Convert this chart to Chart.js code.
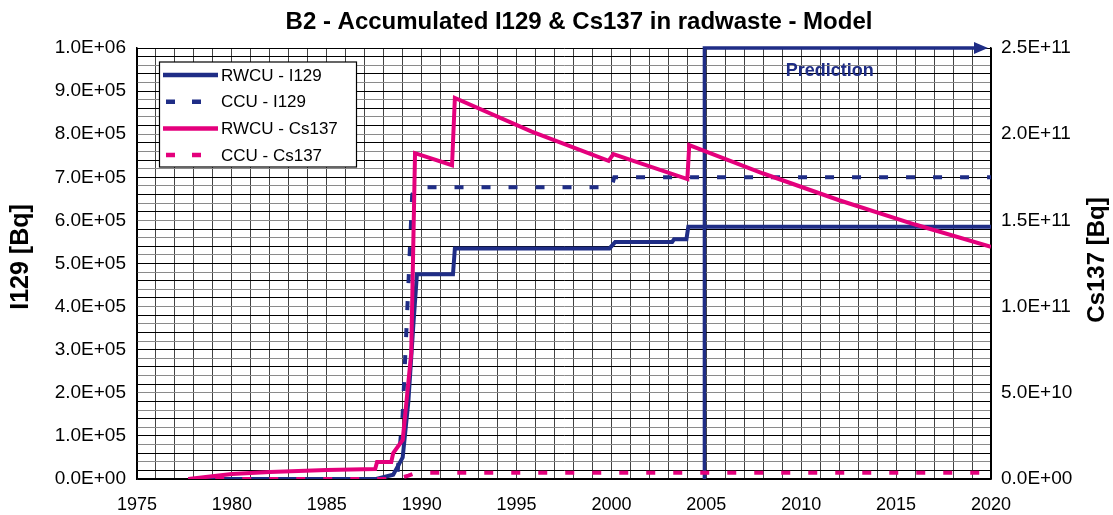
<!DOCTYPE html>
<html><head><meta charset="utf-8">
<script src="https://cdn.jsdelivr.net/npm/chart.js@4.4.1/dist/chart.umd.min.js"></script>
<style>html,body{margin:0;padding:0;background:#fff;} canvas{display:block}</style>
</head><body>
<canvas id="c" width="1113" height="515"></canvas>
<script>
const chartTitle = 'B2 - Accumulated I129 & Cs137 in radwaste - Model';
const leftAxisTitle = 'I129 [Bq]';
const rightAxisTitle = 'Cs137 [Bq]';
const predictionLabel = 'Prediction';
const seriesNames = ['RWCU - I129', 'CCU - I129', 'RWCU - Cs137', 'CCU - Cs137'];

// RWCU - I129 (left axis, Bq)
const rwcuI129Years  = [1977.7, 1987.6, 1988.5, 1989.0, 1989.3, 1989.55, 1989.75, 1991.65, 1991.75, 1999.9, 2000.2, 2003.2, 2003.3, 2003.95, 2004.05, 2020];
const rwcuI129Values = [0, 0, 1.0e4, 5.0e4, 1.8e5, 3.5e5, 4.75e5, 4.75e5, 5.35e5, 5.35e5, 5.5e5, 5.5e5, 5.56e5, 5.56e5, 5.85e5, 5.85e5];
// CCU - I129 (left axis, Bq)
const ccuI129Years  = [1977.7, 1988.7, 1989.0, 1989.3, 1989.5, 1989.75, 2000.0, 2000.15, 2020];
const ccuI129Values = [0, 0, 1.5e5, 4.5e5, 6.6e5, 6.77e5, 6.77e5, 7.0e5, 7.0e5];
// RWCU - Cs137 (right axis, Bq)
const rwcuCs137Years  = [1977.7, 1980, 1982, 1985, 1987.55, 1987.65, 1988.4, 1988.5, 1989.0, 1989.45, 1989.65, 1991.6, 1991.75, 1995.8, 1999.85, 2000.1, 2004.0, 2004.1, 2008, 2012, 2016, 2020];
const rwcuCs137Values = [0, 2.9e9, 4.1e9, 5.2e9, 5.8e9, 9.9e9, 9.9e9, 1.5e10, 2.26e10, 7.3e10, 1.89e11, 1.82e11, 2.21e11, 2.015e11, 1.845e11, 1.885e11, 1.74e11, 1.937e11, 1.772e11, 1.617e11, 1.476e11, 1.347e11];
// CCU - Cs137 (right axis, Bq)
const ccuCs137Years  = [1977.7, 1988.7, 1989.3, 1989.7, 2020];
const ccuCs137Values = [0, 0, 2.0e9, 3.6e9, 3.6e9];
// Prediction marker
const predictionYears  = [2004.9, 2004.9, 2019.2];
const predictionValues = [0, 1.0e6, 1.0e6];

const xMin = 1975, xMax = 2020, xStep = 1, xLabelEvery = 5;
const leftMin = 0, leftMax = 1.0e6, leftStep = 2.0e4, leftLabelEvery = 1.0e5;
const rightMin = 0, rightMax = 2.5e11, rightStep = 5.0e10;

const BLUE = '#1F2D86';
const PINK = '#E4007C';

function pts(xs, ys) { return xs.map((x, i) => ({x: x, y: ys[i]})); }
function sci(v) {
  if (Math.abs(v) < 1e-12) return '0.0E+00';
  let e = Math.floor(Math.log10(Math.abs(v)) + 1e-9);
  let m = v / Math.pow(10, e);
  if (Math.round(m * 10) / 10 >= 10) { m /= 10; e += 1; }
  return m.toFixed(1) + 'E' + (e >= 0 ? '+' : '-') + String(Math.abs(e)).padStart(2, '0');
}
const FONT = "'Liberation Sans', Arial, sans-serif";
Chart.defaults.font.family = FONT;
Chart.defaults.color = '#000';

const overlay = {
  id: 'overlay',
  afterDatasetsDraw(chart) {
    const ctx = chart.ctx, xs = chart.scales.x, yl = chart.scales.y, ca = chart.chartArea;
    // arrowhead
    const tipX = xs.getPixelForValue(xMax) - 3, tipY = yl.getPixelForValue(leftMax);
    ctx.save();
    ctx.fillStyle = BLUE;
    ctx.beginPath();
    ctx.moveTo(tipX, tipY);
    ctx.lineTo(tipX - 14, tipY - 6);
    ctx.lineTo(tipX - 14, tipY + 6);
    ctx.closePath();
    ctx.fill();
    // prediction label
    ctx.font = 'bold 18px ' + FONT;
    ctx.textAlign = 'center';
    ctx.textBaseline = 'middle';
    ctx.fillText(predictionLabel, xs.getPixelForValue(2011.5), yl.getPixelForValue(9.47e5));
    // chart title
    ctx.fillStyle = '#000';
    ctx.font = 'bold 24px ' + FONT;
    ctx.fillText(chartTitle, 579, 22);
    // left axis title
    ctx.save();
    ctx.translate(21, 257);
    ctx.rotate(-Math.PI / 2);
    ctx.font = 'bold 25px ' + FONT;
    ctx.fillText(leftAxisTitle, 0, 0);
    ctx.restore();
    // right axis title (reads bottom to top)
    ctx.save();
    ctx.translate(1097, 260);
    ctx.rotate(-Math.PI / 2);
    ctx.font = 'bold 24px ' + FONT;
    ctx.fillText(rightAxisTitle, 0, 0);
    ctx.restore();
    // legend
    const bx = 159.5, by = 62, bw = 197, bh = 105;
    ctx.fillStyle = '#fff';
    ctx.fillRect(bx, by, bw, bh);
    ctx.strokeStyle = '#000';
    ctx.lineWidth = 1.2;
    ctx.strokeRect(bx, by, bw, bh);
    const rows = [
      {c: BLUE, dash: false}, {c: BLUE, dash: true}, {c: PINK, dash: false}, {c: PINK, dash: true}
    ];
    ctx.font = '17px ' + FONT;
    ctx.textAlign = 'left';
    rows.forEach((r, i) => {
      const yy = 75 + i * 26.7;
      ctx.strokeStyle = r.c;
      ctx.lineWidth = 4.5;
      ctx.lineCap = 'butt';
      if (r.dash) { ctx.setLineDash([9, 17]); ctx.beginPath(); ctx.moveTo(166, yy); ctx.lineTo(202, yy); ctx.stroke(); ctx.setLineDash([]); }
      else { ctx.beginPath(); ctx.moveTo(163, yy); ctx.lineTo(218, yy); ctx.stroke(); }
      ctx.fillStyle = '#000';
      ctx.fillText(seriesNames[i], 221, yy + 1);
    });
    ctx.restore();
  }
};

new Chart(document.getElementById('c'), {
  type: 'line',
  data: {
    datasets: [
      {label: seriesNames[2], data: pts(rwcuCs137Years, rwcuCs137Values), yAxisID: 'y2', borderColor: PINK, borderWidth: 4, order: 0},
      {label: seriesNames[3], data: pts(ccuCs137Years, ccuCs137Values), yAxisID: 'y2', borderColor: PINK, borderWidth: 4, borderDash: [9, 18], order: 1},
      {label: seriesNames[0], data: pts(rwcuI129Years, rwcuI129Values), yAxisID: 'y', borderColor: BLUE, borderWidth: 4, order: 2},
      {label: seriesNames[1], data: pts(ccuI129Years, ccuI129Values), yAxisID: 'y', borderColor: BLUE, borderWidth: 4, borderDash: [9, 18], order: 3},
      {label: 'prediction', data: pts(predictionYears, predictionValues), yAxisID: 'y', borderColor: BLUE, borderWidth: 3.5, clip: false, order: 4}
    ]
  },
  options: {
    responsive: false,
    animation: false,
    devicePixelRatio: 1,
    layout: {padding: {left: 0, right: 0, top: 48, bottom: 0}},
    elements: {point: {radius: 0, hoverRadius: 0}, line: {tension: 0, borderCapStyle: 'butt', borderJoinStyle: 'miter', fill: false}},
    plugins: {
      legend: {display: false},
      tooltip: {enabled: false},
      title: {display: false}
    },
    scales: {
      x: {
        type: 'linear', min: xMin, max: xMax,
        afterFit(s) { s.height = 36; },
        ticks: {stepSize: xStep, autoSkip: false, maxRotation: 0, maxTicksLimit: 1000, padding: 15, font: {size: 18},
          callback: v => (Math.abs(v % xLabelEvery) < 1e-6 ? String(Math.round(v)) : '')},
        grid: {drawTicks: false, lineWidth: 1,
          color: c => (c.tick && (c.tick.value === xMin || c.tick.value === xMax) ? '#000' : '#444')},
        border: {display: true, color: '#000', width: 1.5}
      },
      y: {
        type: 'linear', position: 'left', min: leftMin, max: leftMax,
        afterFit(s) { s.width = 137; },
        title: {display: false},
        ticks: {stepSize: leftStep, autoSkip: false, maxTicksLimit: 1000, padding: 11, font: {size: 19},
          callback: v => {
            const r = Math.round(v / leftLabelEvery) * leftLabelEvery;
            return Math.abs(v - r) < 1 ? sci(r) : '';
          }},
        grid: {drawTicks: false, lineWidth: 1,
          color: c => {
            if (!c.tick) return '#000';
            if (c.tick.value === leftMin || c.tick.value === leftMax) return '#000';
            return c.index % 2 === 0 ? '#8a8a8a' : '#000';
          }},
        border: {display: true, color: '#000', width: 1.5}
      },
      y2: {
        type: 'linear', position: 'right', min: rightMin, max: rightMax,
        afterFit(s) { s.width = 122; },
        title: {display: false},
        ticks: {stepSize: rightStep, autoSkip: false, maxTicksLimit: 1000, padding: 10, font: {size: 19}, callback: v => sci(v)},
        grid: {drawOnChartArea: false, drawTicks: false},
        border: {display: true, color: '#000', width: 1.5}
      }
    }
  },
  plugins: [overlay]
});
</script>
</body></html>
